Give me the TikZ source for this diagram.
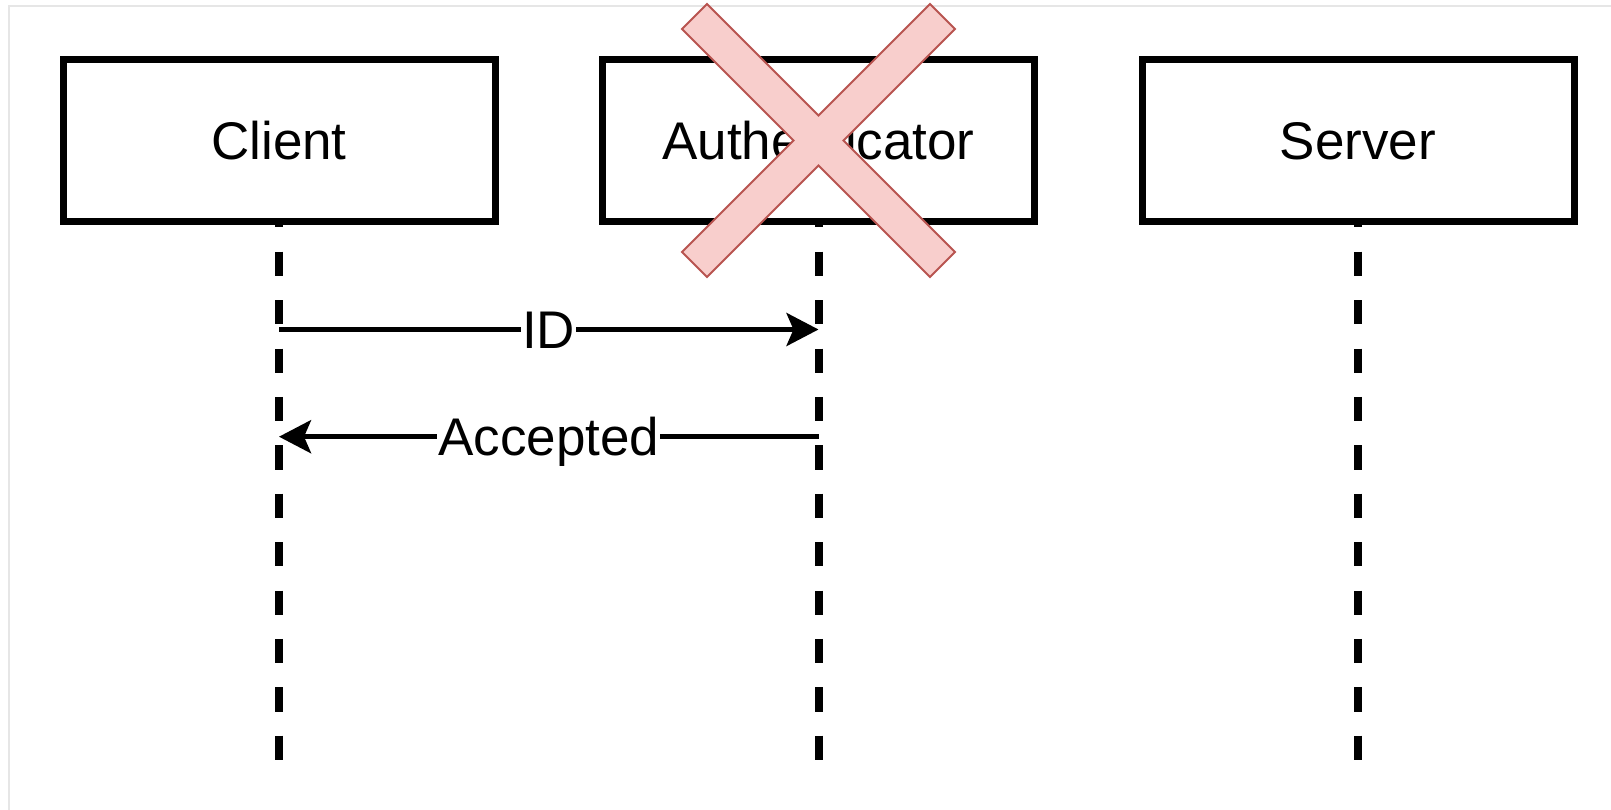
\documentclass[tikz,border=0pt]{standalone}
\usepackage{fontspec}
\setmainfont{Liberation Sans}
\usetikzlibrary{arrows.meta}
\definecolor{framegray}{HTML}{E6E6E6}
\definecolor{crossfill}{HTML}{F8CECC}
\definecolor{crossdraw}{HTML}{B85450}

\begin{document}
\begin{tikzpicture}[x=1pt,y=-1pt,
  lettering/.style={font=\fontsize{53}{60}\selectfont, text height=38pt, text depth=0pt},
  actor/.style={lettering, draw=black, line width=7pt, fill=white,
    minimum width=432pt, minimum height=162pt, inner sep=0pt, outer sep=0pt},
  lifeline/.style={line width=8pt, dash pattern=on 24.2pt off 24.2pt, dash phase=18.7pt},
  msg/.style={line width=5pt, -{Stealth[length=32pt,width=33pt,inset=7pt]}},
  msglabel/.style={lettering, fill=white, inner xsep=1pt, inner ysep=12pt},
  cross/.style={fill=crossfill, draw=crossdraw, line width=1.8pt, line join=miter}
]
\useasboundingbox (0,0) rectangle (1611,810);

% page frame
\draw[framegray, line width=2.5pt] (9,812) -- (9,6) -- (1613,6);

% participants
\node[actor] (client) at (279,141)   {Client};
\node[actor] (auth)   at (818.5,141) {Authenticator};
\node[actor] (server) at (1358,141)  {Server};

% lifeline ends
\coordinate (client-end) at (client |- 0,760);
\coordinate (auth-end)   at (auth |- 0,760);
\coordinate (server-end) at (server |- 0,760);

\draw[lifeline] (client.south) -- (client-end);
\draw[lifeline] (auth.south)   -- (auth-end);
\draw[lifeline] (server.south) -- (server-end);

% messages
\coordinate (id-from)  at (client |- 0,329.5);
\coordinate (id-to)    at (auth |- 0,329.5);
\coordinate (acc-from) at (auth |- 0,436.7);
\coordinate (acc-to)   at (client |- 0,436.7);

\draw[msg] (id-from) -- node[msglabel] {ID} (id-to);
\draw[msg] (acc-from) -- node[msglabel] {Accepted} (acc-to);

% cross over the authenticator
\coordinate (xc) at (818.5,140.5);
\draw[cross, shift={(xc)}]
  (-111.5,-136.5) -- (0,-25) -- (111.5,-136.5) -- (136.5,-111.5) -- (25,0)
  -- (136.5,111.5) -- (111.5,136.5) -- (0,25) -- (-111.5,136.5)
  -- (-136.5,111.5) -- (-25,0) -- (-136.5,-111.5) -- cycle;
\end{tikzpicture}
\end{document}
